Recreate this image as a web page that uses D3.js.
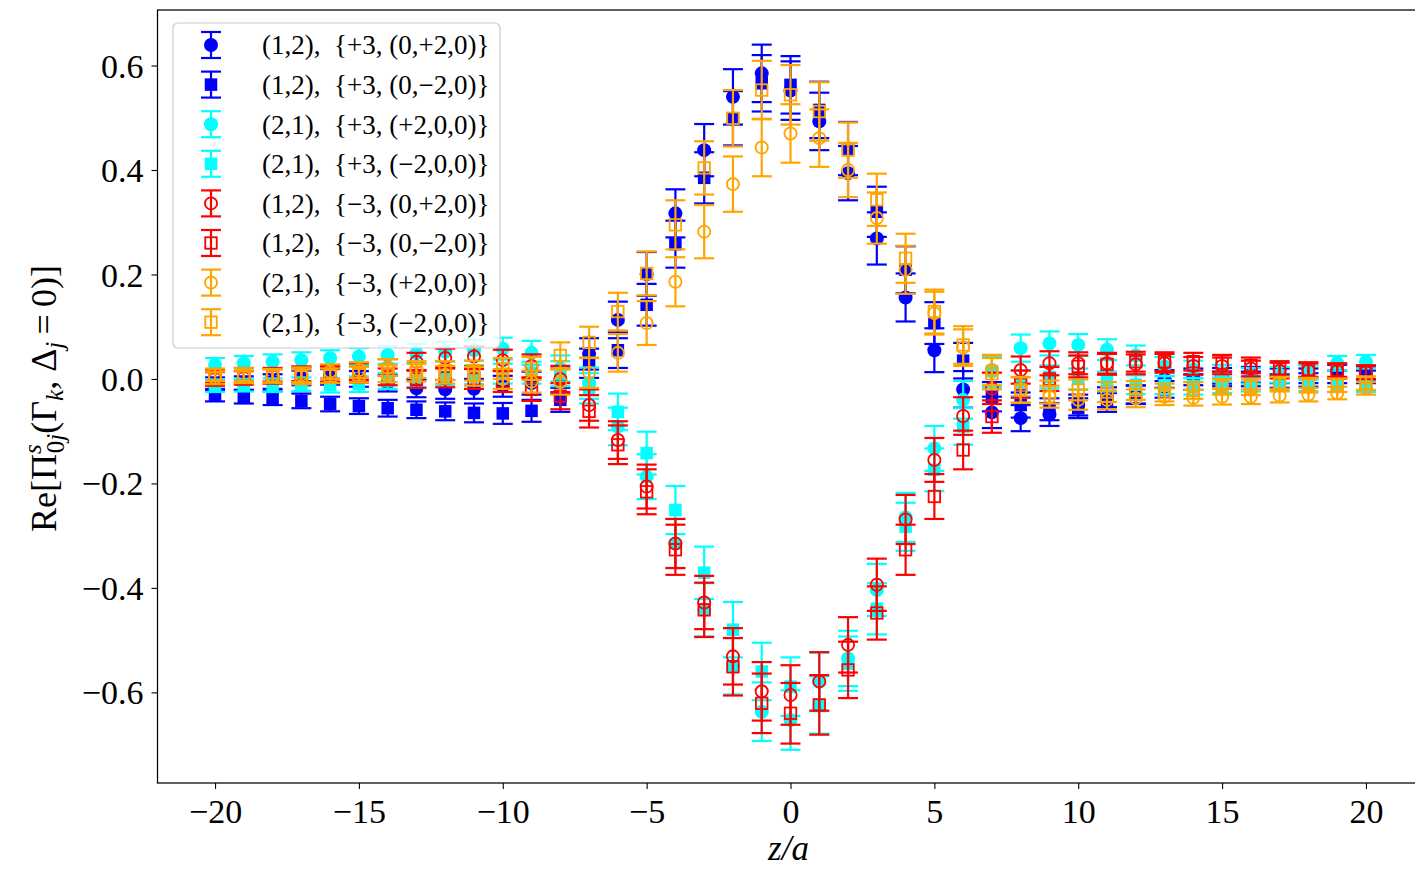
<!DOCTYPE html>
<html><head><meta charset="utf-8">
<script src="https://cdn.jsdelivr.net/npm/d3@7"></script>
<style>
html,body{margin:0;padding:0;background:#fff;}
svg{display:block;}
text{font-family:"Liberation Serif","Times New Roman",serif;}
</style></head>
<body><svg id="chart" width="1415" height="874"></svg>
<script>
// ---------- data ----------
const zValues = [-20,-19,-18,-17,-16,-15,-14,-13,-12,-11,-10,-9,-8,-7,-6,-5,-4,-3,-2,-1,0,1,2,3,4,5,6,7,8,9,10,11,12,13,14,15,16,17,18,19,20];

const seriesLabels = [
  "(1,2),  {+3, (0,+2,0)}",
  "(1,2),  {+3, (0,\u22122,0)}",
  "(2,1),  {+3, (+2,0,0)}",
  "(2,1),  {+3, (\u22122,0,0)}",
  "(1,2),  {\u22123, (0,+2,0)}",
  "(1,2),  {\u22123, (0,\u22122,0)}",
  "(2,1),  {\u22123, (+2,0,0)}",
  "(2,1),  {\u22123, (\u22122,0,0)}"
];
const seriesColors = ["#0000ff","#0000ff","#00ffff","#00ffff","#ff0000","#ff0000","#ffa500","#ffa500"];
const seriesMarkers = ["circle","square","circle","square","circle","square","circle","square"];
const seriesFilled = [true,true,true,true,false,false,false,false];

const valBC = [-0.010,-0.008,-0.005,0.002,0.004,0.000,-0.008,-0.018,-0.020,-0.019,-0.014,-0.008,-0.004,0.048,0.113,0.201,0.317,0.438,0.540,0.585,0.552,0.493,0.394,0.269,0.156,0.055,-0.020,-0.064,-0.075,-0.068,-0.050,-0.035,-0.030,0.000,0.004,0.006,0.008,0.006,0.006,0.014,0.011];
const valBS = [-0.031,-0.034,-0.037,-0.042,-0.048,-0.052,-0.056,-0.059,-0.062,-0.065,-0.066,-0.061,-0.040,0.030,0.055,0.142,0.258,0.385,0.499,0.566,0.563,0.515,0.441,0.320,0.209,0.107,0.035,-0.034,-0.050,-0.058,-0.056,-0.045,-0.030,-0.020,-0.006,0.000,0.000,-0.004,-0.002,0.004,0.004];
const valCC = [0.027,0.030,0.033,0.036,0.040,0.043,0.046,0.049,0.052,0.055,0.058,0.050,0.020,-0.008,-0.091,-0.187,-0.315,-0.442,-0.550,-0.637,-0.653,-0.580,-0.535,-0.404,-0.265,-0.133,-0.040,0.015,0.059,0.068,0.065,0.056,0.045,0.024,0.018,0.011,0.006,0.008,0.012,0.030,0.033];
const valCS = [-0.013,-0.012,-0.012,-0.010,-0.012,-0.010,-0.004,0.000,0.004,0.008,0.010,0.012,0.010,-0.018,-0.063,-0.142,-0.251,-0.371,-0.480,-0.560,-0.589,-0.624,-0.545,-0.440,-0.283,-0.174,-0.091,0.015,-0.008,0.004,0.000,-0.005,-0.011,-0.012,-0.014,-0.012,-0.010,-0.008,-0.010,-0.012,-0.013];
const valRC = [0.000,0.002,0.005,0.008,0.010,0.014,0.022,0.033,0.040,0.043,0.036,0.025,0.000,-0.050,-0.117,-0.206,-0.315,-0.428,-0.531,-0.598,-0.605,-0.579,-0.509,-0.394,-0.269,-0.155,-0.071,-0.018,0.017,0.030,0.030,0.030,0.028,0.030,0.025,0.025,0.020,0.016,0.016,0.015,0.013];
const valRS = [0.006,0.008,0.008,0.010,0.008,0.008,0.004,0.000,0.002,0.000,-0.005,-0.020,-0.033,-0.062,-0.126,-0.216,-0.327,-0.442,-0.551,-0.621,-0.640,-0.624,-0.557,-0.448,-0.327,-0.225,-0.136,-0.072,-0.010,0.000,0.024,0.028,0.033,0.033,0.033,0.030,0.026,0.020,0.018,0.017,0.013];
const valOC = [0.002,0.004,0.006,0.008,0.014,0.017,0.022,0.018,0.008,0.005,0.000,-0.005,-0.006,0.012,0.050,0.107,0.186,0.282,0.373,0.443,0.470,0.461,0.400,0.308,0.209,0.126,0.060,0.017,-0.021,-0.034,-0.040,-0.040,-0.037,-0.034,-0.036,-0.034,-0.034,-0.032,-0.030,-0.027,-0.018];
const valOS = [0.008,0.008,0.006,0.004,0.006,0.008,0.010,0.012,0.016,0.016,0.020,0.020,0.045,0.070,0.129,0.202,0.295,0.404,0.499,0.553,0.544,0.512,0.438,0.343,0.231,0.129,0.065,0.010,-0.021,-0.025,-0.021,-0.025,-0.022,-0.026,-0.022,-0.015,-0.016,-0.010,-0.012,-0.012,-0.008];

const errBC = [0.013,0.013,0.014,0.014,0.015,0.015,0.016,0.017,0.018,0.019,0.020,0.022,0.024,0.030,0.035,0.042,0.046,0.050,0.053,0.055,0.056,0.055,0.052,0.050,0.046,0.042,0.035,0.030,0.025,0.022,0.020,0.019,0.018,0.017,0.016,0.015,0.015,0.014,0.014,0.013,0.013];
const errBS = [0.012,0.013,0.013,0.014,0.014,0.015,0.016,0.016,0.017,0.018,0.020,0.021,0.023,0.028,0.034,0.040,0.045,0.049,0.052,0.054,0.055,0.054,0.051,0.048,0.045,0.040,0.034,0.028,0.024,0.021,0.019,0.018,0.017,0.016,0.015,0.014,0.014,0.013,0.013,0.012,0.012];
const errCC = [0.013,0.014,0.014,0.015,0.015,0.016,0.017,0.018,0.019,0.020,0.021,0.023,0.025,0.030,0.036,0.043,0.047,0.051,0.054,0.056,0.057,0.056,0.053,0.050,0.047,0.043,0.036,0.031,0.026,0.023,0.021,0.020,0.019,0.018,0.017,0.016,0.015,0.015,0.014,0.014,0.013];
const errCS = [0.012,0.012,0.013,0.013,0.014,0.015,0.015,0.016,0.017,0.018,0.019,0.021,0.024,0.029,0.035,0.041,0.046,0.050,0.053,0.055,0.056,0.055,0.052,0.049,0.046,0.041,0.035,0.029,0.025,0.022,0.020,0.019,0.018,0.017,0.016,0.015,0.014,0.014,0.013,0.013,0.012];
const errRC = [0.013,0.013,0.014,0.015,0.015,0.016,0.016,0.017,0.018,0.019,0.020,0.022,0.025,0.030,0.036,0.042,0.047,0.051,0.054,0.056,0.057,0.056,0.053,0.050,0.047,0.042,0.036,0.030,0.026,0.023,0.021,0.020,0.019,0.018,0.017,0.016,0.015,0.015,0.014,0.014,0.013];
const errRS = [0.012,0.013,0.013,0.014,0.015,0.015,0.016,0.017,0.018,0.019,0.020,0.022,0.025,0.031,0.037,0.043,0.048,0.052,0.055,0.057,0.058,0.057,0.054,0.051,0.048,0.043,0.037,0.031,0.026,0.023,0.021,0.020,0.019,0.018,0.017,0.016,0.015,0.014,0.014,0.013,0.013];
const errOC = [0.012,0.012,0.013,0.014,0.014,0.015,0.016,0.016,0.017,0.018,0.019,0.021,0.024,0.029,0.036,0.042,0.047,0.051,0.053,0.055,0.056,0.055,0.052,0.049,0.046,0.041,0.035,0.029,0.024,0.021,0.019,0.018,0.017,0.016,0.015,0.015,0.014,0.013,0.013,0.012,0.012];
const errOS = [0.012,0.013,0.013,0.014,0.014,0.015,0.016,0.017,0.018,0.019,0.020,0.022,0.025,0.030,0.036,0.042,0.047,0.051,0.054,0.056,0.057,0.056,0.053,0.050,0.047,0.042,0.036,0.030,0.025,0.022,0.020,0.019,0.018,0.017,0.016,0.015,0.015,0.014,0.014,0.013,0.013];

const seriesValues = [valBC,valBS,valCC,valCS,valRC,valRS,valOC,valOS];
const seriesErrors = [errBC,errBS,errCC,errCS,errRC,errRS,errOC,errOS];

const xTicks = [-20,-15,-10,-5,0,5,10,15,20];
const yTicks = [-0.6,-0.4,-0.2,0.0,0.2,0.4,0.6];

// ---------- layout ----------
const svg = d3.select("#chart");
const plotL = 157.5, plotR = 1423.5, plotT = 10, plotB = 783;
const x = d3.scaleLinear().domain([-22, 22]).range([plotL, plotR]);
const y = d3.scaleLinear().domain([-0.7735, 0.7063]).range([plotB, plotT]);

const tickFont = 34;
const xAxis = d3.axisBottom(x).tickValues(xTicks).tickFormat(d3.format("d")).tickSizeOuter(0).tickSize(6).tickPadding(8);
const yAxis = d3.axisLeft(y).tickValues(yTicks).tickFormat(d3.format(".1f")).tickSizeOuter(0).tickSize(6).tickPadding(8);

const gx = svg.append("g").attr("transform", `translate(0,${plotB})`).call(xAxis);
const gy = svg.append("g").attr("transform", `translate(${plotL},0)`).call(yAxis);
[gx, gy].forEach(g => {
  g.select(".domain").remove();
  g.selectAll(".tick line").attr("stroke", "#000").attr("stroke-width", 1.1);
  g.selectAll(".tick text").attr("fill", "#000").attr("font-size", tickFont)
    .attr("font-family", "'Liberation Serif','Times New Roman',serif");
});
gy.selectAll(".tick text").attr("dy", "0.34em");
gx.selectAll(".tick text").attr("dy", "0.76em");

svg.append("rect").attr("x", plotL).attr("y", plotT).attr("width", plotR - plotL).attr("height", plotB - plotT)
  .attr("fill", "none").attr("stroke", "#000").attr("stroke-width", 1.25);

// ---------- series ----------
const capHalf = 10, mSize = 14;
function drawMarker(g, type, cx, cy, color, filled) {
  if (type === "circle") {
    g.append("circle").attr("cx", cx).attr("cy", cy).attr("r", filled ? mSize / 2 : mSize / 2 - 0.9)
      .attr("fill", filled ? color : "none").attr("stroke", color).attr("stroke-width", filled ? 0 : 1.8);
  } else {
    const s = filled ? mSize - 1.5 : mSize - 2.5;
    g.append("rect").attr("x", cx - s / 2).attr("y", cy - s / 2).attr("width", s).attr("height", s)
      .attr("fill", filled ? color : "none").attr("stroke", color).attr("stroke-width", filled ? 0 : 1.8);
  }
}

seriesValues.forEach((vals, si) => {
  const color = seriesColors[si];
  const g = svg.append("g");
  const errs = seriesErrors[si];
  vals.forEach((v, i) => {
    const cx = x(zValues[i]);
    const y1 = y(v - errs[i]), y2 = y(v + errs[i]);
    g.append("line").attr("x1", cx).attr("x2", cx).attr("y1", y1).attr("y2", y2)
      .attr("stroke", color).attr("stroke-width", 2.2);
    [y1, y2].forEach(yy => g.append("line").attr("x1", cx - capHalf).attr("x2", cx + capHalf)
      .attr("y1", yy).attr("y2", yy).attr("stroke", color).attr("stroke-width", 2.2));
  });
  vals.forEach((v, i) => drawMarker(g, seriesMarkers[si], x(zValues[i]), y(v), color, seriesFilled[si]));
});

// ---------- legend ----------
const lg = svg.append("g");
lg.append("rect").attr("x", 173).attr("y", 23).attr("width", 327).attr("height", 325).attr("rx", 5)
  .attr("fill", "#fff").attr("fill-opacity", 0.8).attr("stroke", "#cccccc").attr("stroke-width", 1.2);
seriesLabels.forEach((lab, si) => {
  const cy = 45 + si * 39.6, cx = 211, color = seriesColors[si];
  lg.append("line").attr("x1", cx).attr("x2", cx).attr("y1", cy - 13).attr("y2", cy + 13)
    .attr("stroke", color).attr("stroke-width", 2.2);
  [cy - 13, cy + 13].forEach(yy => lg.append("line").attr("x1", cx - capHalf).attr("x2", cx + capHalf)
    .attr("y1", yy).attr("y2", yy).attr("stroke", color).attr("stroke-width", 2.2));
  drawMarker(lg, seriesMarkers[si], cx, cy, color, seriesFilled[si]);
  lg.append("text").attr("x", 262).attr("y", cy).attr("dy", "0.35em").attr("font-size", 27)
    .style("white-space", "pre").attr("fill", "#000").text(lab);
});

// ---------- axis labels ----------
svg.append("text").attr("x", (plotL + 1423.5) / 2 - 2).attr("y", 860).attr("text-anchor", "middle")
  .attr("font-size", 35).attr("font-style", "italic").attr("fill", "#000").text("z/a");

const yl = svg.append("text").attr("transform", `translate(56,${(plotT + plotB) / 2 + 2}) rotate(-90)`)
  .attr("text-anchor", "middle").attr("font-size", 36).attr("fill", "#000");
yl.append("tspan").text("Re[\u03A0");
yl.append("tspan").attr("font-size", 25).attr("font-style", "italic").attr("dy", -15).text("s");
yl.append("tspan").attr("font-size", 25).attr("dx", -9).attr("dy", 23).text("0");
yl.append("tspan").attr("font-size", 25).attr("font-style", "italic").text("j");
yl.append("tspan").attr("dy", -8).text("(\u0393");
yl.append("tspan").attr("font-size", 25).attr("font-style", "italic").attr("dy", 7).text("k");
yl.append("tspan").attr("dy", -7).text(", \u0394");
yl.append("tspan").attr("font-size", 25).attr("font-style", "italic").attr("dy", 7).text("j");
yl.append("tspan").attr("dy", -7).text("\u2009=\u20090)]");
</script></body></html>
